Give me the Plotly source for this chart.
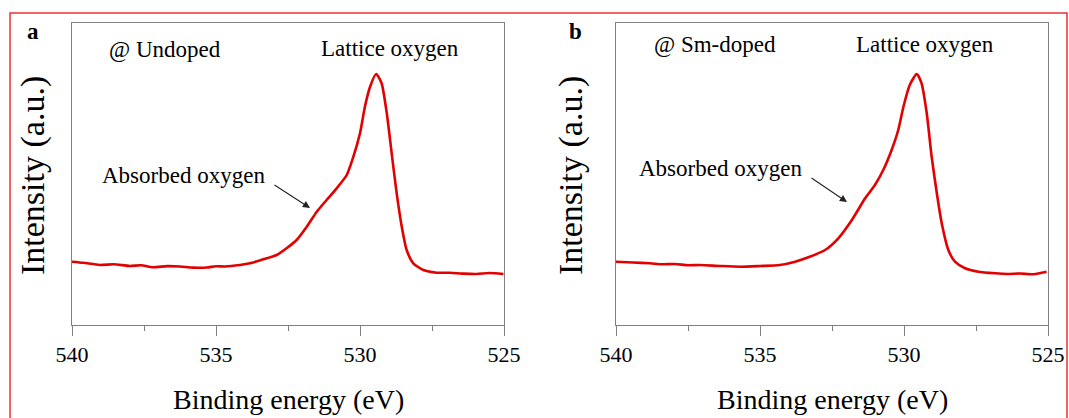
import plotly.graph_objects as go

# ---------------- data ----------------
energy_undoped = [540.00, 539.60, 539.03, 538.55, 537.99, 537.60, 537.19, 536.70, 536.25, 535.80,
                  535.32, 535.00, 534.69, 534.17, 533.82, 533.36, 532.89, 532.55, 532.20, 531.85,
                  531.50, 531.16, 530.81, 530.46, 530.23, 530.00, 529.83, 529.65, 529.44, 529.25,
                  529.07, 528.90, 528.73, 528.55, 528.38, 528.15, 527.80, 527.34, 526.88, 526.40,
                  525.95, 525.50, 525.02]
intensity_undoped = [20.96, 20.60, 19.87, 20.10, 19.54, 19.80, 19.11, 19.50, 19.37, 19.00,
                     19.04, 19.45, 19.37, 19.87, 20.43, 21.75, 23.18, 25.40, 28.15, 32.55,
                     37.52, 41.39, 45.26, 49.67, 55.73, 63.48, 72.28, 78.91, 83.11, 80.03,
                     70.10, 56.85, 43.81, 32.55, 24.83, 20.43, 18.21, 17.32, 17.32, 17.00,
                     16.89, 17.20, 16.89]

energy_smdoped = [540.00, 539.41, 538.82, 538.40, 537.95, 537.50, 537.08, 536.39, 535.69, 535.00,
                  534.31, 533.78, 533.32, 532.74, 532.28, 531.81, 531.35, 531.01, 530.72, 530.43,
                  530.20, 530.02, 529.80, 529.56, 529.39, 529.21, 529.04, 528.86, 528.69, 528.46,
                  528.23, 527.88, 527.42, 526.84, 526.40, 525.97, 525.50, 525.05]
intensity_smdoped = [20.96, 20.70, 20.43, 20.10, 20.20, 19.80, 19.87, 19.54, 19.30, 19.54,
                     19.87, 20.96, 22.42, 24.83, 28.71, 34.77, 41.95, 46.36, 51.32, 57.95,
                     64.57, 72.28, 79.47, 83.11, 80.03, 70.10, 55.73, 43.61, 33.68, 24.83,
                     20.96, 18.77, 17.65, 17.12, 16.90, 17.05, 16.80, 17.65]

x_ticks = [540, 535, 530, 525]
panel_letters = ["a", "b"]
sample_labels = ["@ Undoped", "@ Sm-doped"]

# ---------------- layout helpers ----------------
W, H = 1069, 418
def fx(px):
    return px / W
def fy(py):
    return 1 - py / H

RED = "#e30000"
AXC = "#808080"
FONT = "Liberation Serif"

fig = go.Figure()
fig.add_trace(go.Scatter(x=energy_undoped, y=intensity_undoped, mode="lines",
                         line=dict(color=RED, width=2.6, shape="spline", smoothing=0.6),
                         xaxis="x", yaxis="y", showlegend=False))
fig.add_trace(go.Scatter(x=energy_smdoped, y=intensity_smdoped, mode="lines",
                         line=dict(color=RED, width=2.6, shape="spline", smoothing=0.6),
                         xaxis="x2", yaxis="y2", showlegend=False))

xcommon = dict(range=[540, 525], tickvals=x_ticks, ticktext=[str(t) for t in x_ticks],
               ticks="outside", ticklen=10, tickwidth=1, tickcolor=AXC,
               showline=True, linecolor=AXC, linewidth=1, mirror=True,
               showgrid=False, zeroline=False, automargin=False,
               tickfont=dict(family=FONT, size=22, color="black"),
               minor=dict(dtick=2.5, ticks="outside", ticklen=5, tickcolor=AXC, tickwidth=1))
ycommon = dict(range=[0, 100], showticklabels=False, ticks="",
               showline=True, linecolor=AXC, linewidth=1, mirror=True,
               showgrid=False, zeroline=False, automargin=False)

fig.update_layout(
    width=W, height=H,
    margin=dict(l=0, r=0, t=0, b=0, pad=0, autoexpand=False),
    paper_bgcolor="white", plot_bgcolor="white",
    font=dict(family=FONT, color="black"),
    xaxis=dict(domain=[fx(72), fx(504)], anchor="y", **xcommon),
    yaxis=dict(domain=[fy(325), fy(23)], anchor="x", **ycommon),
    xaxis2=dict(domain=[fx(616), fx(1048)], anchor="y2", **xcommon),
    yaxis2=dict(domain=[fy(325), fy(23)], anchor="x2", **ycommon),
)

ann = []
# panel letters
for letter, px in zip(panel_letters, [33, 575]):
    ann.append(dict(x=fx(px), y=fy(31), xref="paper", yref="paper", text=f"<b>{letter}</b>",
                    showarrow=False, font=dict(family=FONT, size=23, color="black"),
                    xanchor="center", yanchor="middle"))
# y titles
for px in [33, 571]:
    ann.append(dict(x=fx(px), y=fy(176), xref="paper", yref="paper", text="Intensity (a.u.)",
                    showarrow=False, textangle=-90, font=dict(family=FONT, size=34, color="black"),
                    xanchor="center", yanchor="middle"))
# x titles
for px in [288, 832]:
    ann.append(dict(x=fx(px), y=fy(399), xref="paper", yref="paper", text="Binding energy (eV)",
                    showarrow=False, font=dict(family=FONT, size=28, color="black"),
                    xanchor="center", yanchor="middle"))
# sample labels
for lab, px, py in zip(sample_labels, [107, 652], [49, 45]):
    ann.append(dict(x=fx(px), y=fy(py), xref="paper", yref="paper", text=lab,
                    showarrow=False, font=dict(family=FONT, size=23, color="black"),
                    xanchor="left", yanchor="middle"))
# lattice oxygen labels
for px, py in [(319, 48), (854, 45)]:
    ann.append(dict(x=fx(px), y=fy(py), xref="paper", yref="paper", text="Lattice oxygen",
                    showarrow=False, font=dict(family=FONT, size=23, color="black"),
                    xanchor="left", yanchor="middle"))
# absorbed oxygen labels
for px, py in [(100, 175), (637, 169)]:
    ann.append(dict(x=fx(px), y=fy(py), xref="paper", yref="paper", text="Absorbed oxygen",
                    showarrow=False, font=dict(family=FONT, size=23, color="black"),
                    xanchor="left", yanchor="middle"))
# arrows
for hx, hy, tx, ty in [(310, 208, 273, 184), (847, 202, 810, 177)]:
    ann.append(dict(x=fx(hx), y=fy(hy), xref="paper", yref="paper", text="",
                    showarrow=True, arrowhead=2, arrowsize=1.3, arrowwidth=1.1,
                    arrowcolor="#222222", ax=tx - hx, ay=ty - hy, axref="pixel", ayref="pixel"))
fig.update_layout(annotations=ann)

# red frame around the figure
fig.add_shape(type="rect", xref="paper", yref="paper",
              x0=fx(10), x1=fx(1067), y0=fy(440), y1=fy(13),
              line=dict(color="#ee3030", width=1.5), fillcolor="rgba(0,0,0,0)", layer="above")

fig.write_html("out.html")
